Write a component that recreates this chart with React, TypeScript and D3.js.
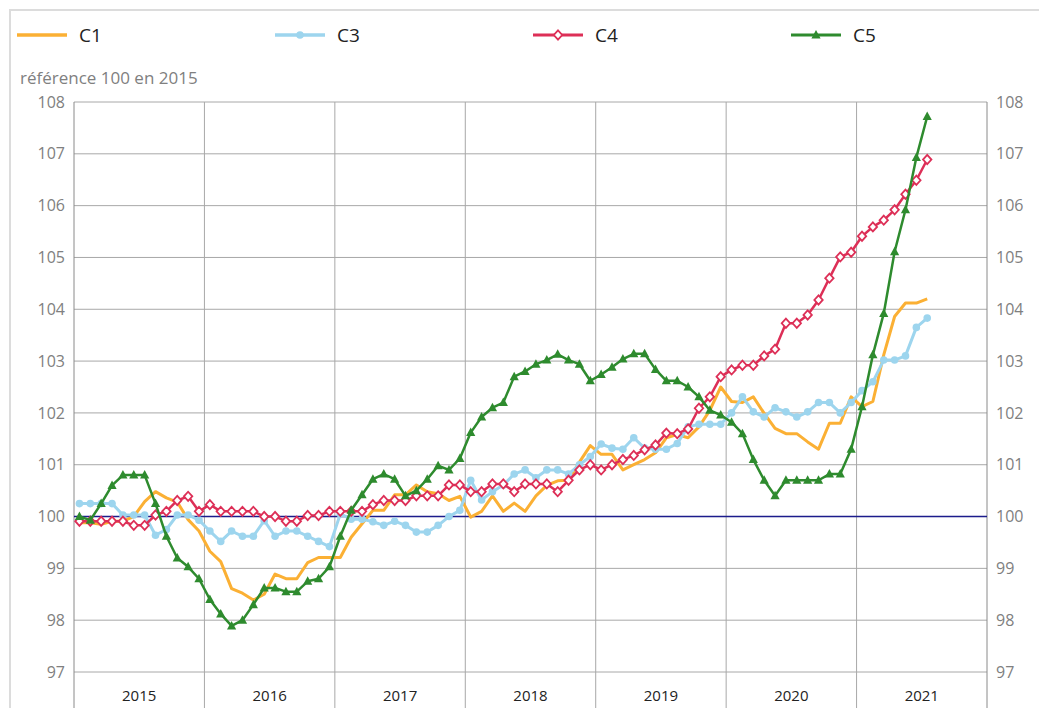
import * as d3 from "d3";

const years = ["2015", "2016", "2017", "2018", "2019", "2020", "2021"];
const yTicks = [97, 98, 99, 100, 101, 102, 103, 104, 105, 106, 107, 108];

// monthly values, Jan 2015 - Jul 2021
const c1 = [
  99.88, 99.88, 99.85, 99.91, 99.91, 100.0, 100.29, 100.48, 100.36, 100.28, 99.94, 99.72,
  99.33, 99.13, 98.61, 98.52, 98.39, 98.5, 98.89, 98.8, 98.8, 99.11, 99.21, 99.21,
  99.21, 99.6, 99.86, 100.12, 100.12, 100.42, 100.42, 100.61, 100.48, 100.44, 100.31, 100.39,
  99.99, 100.1, 100.4, 100.1, 100.26, 100.1, 100.4, 100.6, 100.69, 100.7, 101.05, 101.37,
  101.2, 101.2, 100.9, 101.0, 101.1, 101.23, 101.52, 101.58, 101.52, 101.73, 102.05, 102.5,
  102.22, 102.2, 102.31, 101.99, 101.7, 101.6, 101.6, 101.44, 101.3, 101.8, 101.8, 102.31,
  102.12, 102.22, 103.12, 103.86, 104.12, 104.12, 104.2,
];
const c3 = [
  100.25, 100.25, 100.25, 100.25, 100.03, 100.03, 100.03, 99.64, 99.75, 100.03, 100.03, 99.93,
  99.72, 99.52, 99.72, 99.62, 99.62, 99.92, 99.62, 99.72, 99.72, 99.62, 99.52, 99.42,
  100.05, 99.95, 99.95, 99.9, 99.83, 99.91, 99.83, 99.7, 99.7, 99.83, 100.0, 100.12,
  100.7, 100.32, 100.48, 100.61, 100.82, 100.9, 100.75, 100.9, 100.9, 100.82, 101.0, 101.16,
  101.4, 101.32, 101.3, 101.52, 101.32, 101.3, 101.3, 101.41, 101.73, 101.78, 101.78, 101.78,
  102.0, 102.31, 102.02, 101.92, 102.1, 102.02, 101.92, 102.02, 102.2, 102.2, 102.0, 102.2,
  102.43, 102.6, 103.02, 103.02, 103.1, 103.65, 103.83,
];
const c4 = [
  99.91, 99.91, 99.91, 99.91, 99.91, 99.83, 99.83, 100.03, 100.1, 100.31, 100.39, 100.1,
  100.23, 100.1, 100.1, 100.1, 100.1, 100.0, 100.0, 99.91, 99.91, 100.02, 100.02, 100.1,
  100.1, 100.1, 100.1, 100.23, 100.31, 100.31, 100.31, 100.4, 100.4, 100.4, 100.61, 100.61,
  100.48, 100.48, 100.63, 100.63, 100.48, 100.63, 100.63, 100.63, 100.48, 100.7, 100.9, 101.0,
  100.9, 101.0, 101.1, 101.18, 101.29, 101.38, 101.61, 101.6, 101.69, 102.09, 102.31, 102.7,
  102.83, 102.92, 102.92, 103.1, 103.23, 103.73, 103.73, 103.89, 104.18, 104.6, 105.01, 105.1,
  105.41, 105.59, 105.72, 105.92, 106.22, 106.49, 106.89,
];
const c5 = [
  100.0, 99.93, 100.25, 100.6, 100.8, 100.8, 100.8, 100.25, 99.62, 99.2, 99.03, 98.8,
  98.4, 98.12, 97.89, 98.0, 98.3, 98.62, 98.62, 98.55, 98.55, 98.75, 98.8, 99.03,
  99.62, 100.12, 100.42, 100.72, 100.82, 100.72, 100.4, 100.5, 100.72, 100.98, 100.9, 101.12,
  101.62, 101.92, 102.1, 102.2, 102.7, 102.8, 102.94, 103.02, 103.13, 103.02, 102.94, 102.62,
  102.74, 102.88, 103.04, 103.14, 103.14, 102.84, 102.62, 102.62, 102.5, 102.31, 102.05, 101.96,
  101.82, 101.6, 101.1, 100.7, 100.4, 100.7, 100.7, 100.7, 100.7, 100.82, 100.82, 101.3,
  102.12, 103.12, 103.92, 105.11, 105.92, 106.93, 107.72,
];

const series = [
  { name: "C1", values: c1, color: "#fbb034", marker: "none", width: 3 },
  { name: "C3", values: c3, color: "#9dd5ee", marker: "circle", width: 3 },
  { name: "C4", values: c4, color: "#dd2f57", marker: "diamond", width: 2.5 },
  { name: "C5", values: c5, color: "#2e8b2e", marker: "triangle", width: 2.5 },
];

const W = 1039;
const H = 708;
const plot = { left: 74, right: 987, top: 102, bottom: 672 };
const font = "'Open Sans', 'Noto Sans', sans-serif";

function Marker({ type, x, y, color }: { type: string; x: number; y: number; color: string }) {
  if (type === "circle") return <circle cx={x} cy={y} r={3.8} fill={color} />;
  if (type === "diamond")
    return (
      <path
        d={`M${x},${y - 4.6}L${x + 4.2},${y}L${x},${y + 4.6}L${x - 4.2},${y}Z`}
        fill="#fff"
        stroke={color}
        strokeWidth={1.8}
      />
    );
  if (type === "triangle")
    return <path d={`M${x},${y - 5}L${x + 4.6},${y + 3.5}L${x - 4.6},${y + 3.5}Z`} fill={color} />;
  return null;
}

export default function App() {
  const x = d3.scaleLinear().domain([0, years.length * 12]).range([plot.left, plot.right]);
  const y = d3.scaleLinear().domain([97, 108]).range([plot.bottom, plot.top]);
  const line = d3
    .line<number>()
    .x((_, i) => x(i + 0.5))
    .y((d) => y(d));

  return (
    <svg width={W} height={H} style={{ position: "absolute", left: 0, top: 0 }} fontFamily={font}>
      <rect width={W} height={H} fill="#fff" />
      {/* frame */}
      <path d={`M10,${H}V10H${W}`} fill="none" stroke="#dcdcdc" strokeWidth={2} />

      {/* legend */}
      {series.map((s, k) => {
        const lx = 17 + k * 258;
        return (
          <g key={s.name}>
            <line x1={lx} x2={lx + 50} y1={35} y2={35} stroke={s.color} strokeWidth={s.width + 0.5} />
            <Marker type={s.marker} x={lx + 25} y={35} color={s.color} />
            <text x={lx + 62} y={42} fontSize={19} fill="#222">
              {s.name}
            </text>
          </g>
        );
      })}

      <text x={20} y={84} fontSize={17} fill="#808080">
        référence 100 en 2015
      </text>

      {/* horizontal grid */}
      {yTicks.map((t) => (
        <g key={t}>
          <line x1={plot.left} x2={plot.right} y1={y(t)} y2={y(t)} stroke="#a8a8a8" strokeWidth={1} />
          <text x={65} y={y(t)} dy="0.35em" textAnchor="end" fontSize={16} fill="#808080">
            {t}
          </text>
          <text x={996} y={y(t)} dy="0.35em" fontSize={16} fill="#808080">
            {t}
          </text>
        </g>
      ))}

      {/* vertical grid + year labels */}
      {d3.range(years.length + 1).map((k) => (
        <line
          key={k}
          x1={x(k * 12)}
          x2={x(k * 12)}
          y1={plot.top}
          y2={H}
          stroke={k === 0 || k === years.length ? "#8a8a8a" : "#a8a8a8"}
          strokeWidth={1}
        />
      ))}
      {years.map((yr, k) => (
        <text key={yr} x={x(k * 12 + 6)} y={701} textAnchor="middle" fontSize={15} fill="#222">
          {yr}
        </text>
      ))}

      {/* base 100 */}
      <line x1={plot.left} x2={plot.right} y1={y(100)} y2={y(100)} stroke="#1c1c8c" strokeWidth={1.5} />

      {/* series */}
      {series.map((s) => (
        <g key={s.name}>
          <path d={line(s.values) ?? ""} fill="none" stroke={s.color} strokeWidth={s.width} strokeLinejoin="round" />
          {s.values.map((v, i) => (
            <Marker key={i} type={s.marker} x={x(i + 0.5)} y={y(v)} color={s.color} />
          ))}
        </g>
      ))}
    </svg>
  );
}
